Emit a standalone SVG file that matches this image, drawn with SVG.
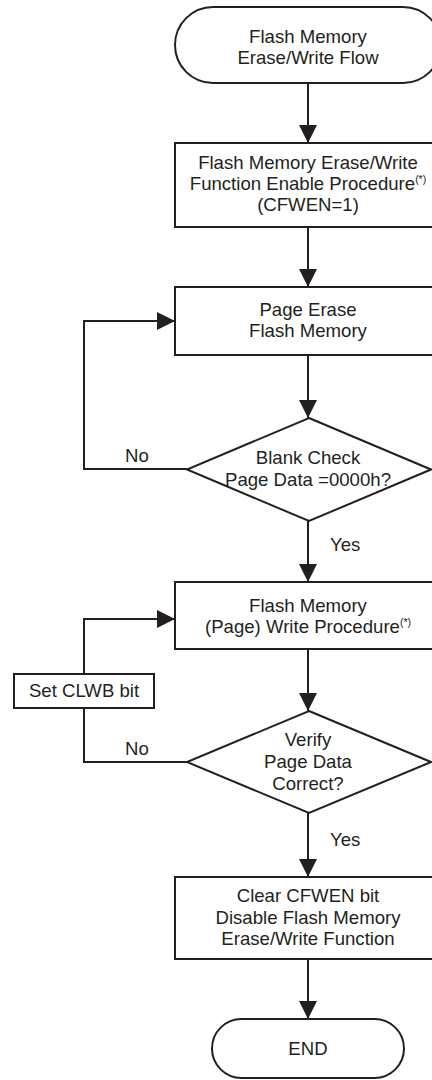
<svg xmlns="http://www.w3.org/2000/svg" width="432" height="1080" viewBox="0 0 432 1080">
<style>
.s{fill:#fff;stroke:#231f20;stroke-width:2}
.c{fill:none;stroke:#231f20;stroke-width:2}
text{font-family:"Liberation Sans",Arial,sans-serif;font-size:18.6px;fill:#231f20;text-anchor:middle}
.sup{font-size:10.5px}
.l{text-anchor:start}
</style>
<defs>
<marker id="ah" markerUnits="userSpaceOnUse" markerWidth="18" markerHeight="18" viewBox="0 0 16 16" refX="16" refY="8" orient="auto">
<path d="M0,0 L16,8 L0,16 Z" fill="#231f20"/>
</marker>
</defs>
<rect width="432" height="1080" fill="#fff"/>
<g id="connectors">
<line class="c" x1="308" y1="83" x2="308" y2="143" marker-end="url(#ah)"/>
<line class="c" x1="308" y1="227" x2="308" y2="287" marker-end="url(#ah)"/>
<line class="c" x1="308" y1="355" x2="308" y2="418" marker-end="url(#ah)"/>
<polyline class="c" points="187,469 84,469 84,321 175,321" marker-end="url(#ah)"/>
<line class="c" x1="308" y1="521" x2="308" y2="582" marker-end="url(#ah)"/>
<line class="c" x1="308" y1="649" x2="308" y2="711" marker-end="url(#ah)"/>
<polyline class="c" points="187,762 84,762 84,708"/>
<polyline class="c" points="84,674 84,619 175,619" marker-end="url(#ah)"/>
<line class="c" x1="308" y1="813" x2="308" y2="877" marker-end="url(#ah)"/>
<line class="c" x1="308" y1="959" x2="308" y2="1019" marker-end="url(#ah)"/>
<text x="137" y="462">No</text>
<text class="l" x="330" y="551">Yes</text>
<text x="137" y="755">No</text>
<text class="l" x="330" y="846">Yes</text>
</g>
<g id="start">
<rect class="s" x="175" y="7" width="266" height="76" rx="38" ry="38"/>
<text x="308" y="43">Flash Memory</text>
<text x="308" y="64">Erase/Write Flow</text>
</g>
<g id="enable">
<rect class="s" x="175" y="143" width="266" height="84"/>
<text x="308" y="169">Flash Memory Erase/Write</text>
<text x="308" y="190">Function Enable Procedure<tspan class="sup" dy="-7">(*)</tspan></text>
<text x="308" y="211">(CFWEN=1)</text>
</g>
<g id="erase">
<rect class="s" x="175" y="287" width="266" height="68"/>
<text x="308" y="316">Page Erase</text>
<text x="308" y="337">Flash Memory</text>
</g>
<g id="blank">
<polygon class="s" points="309,418 431,469.5 309,521 187,469.5"/>
<text x="308" y="464">Blank Check</text>
<text x="308" y="486">Page Data =0000h?</text>
</g>
<g id="write">
<rect class="s" x="175" y="582" width="266" height="67"/>
<text x="308" y="612">Flash Memory</text>
<text x="308" y="633">(Page) Write Procedure<tspan class="sup" dy="-7">(*)</tspan></text>
</g>
<g id="clwb">
<rect class="s" x="14" y="674" width="140" height="34"/>
<text x="84" y="697">Set CLWB bit</text>
</g>
<g id="verify">
<polygon class="s" points="309,711 431,762 309,813 187,762"/>
<text x="308" y="746">Verify</text>
<text x="308" y="768">Page Data</text>
<text x="308" y="790">Correct?</text>
</g>
<g id="clear">
<rect class="s" x="175" y="877" width="266" height="82"/>
<text x="308" y="902">Clear CFWEN bit</text>
<text x="308" y="924">Disable Flash Memory</text>
<text x="308" y="945">Erase/Write Function</text>
</g>
<g id="end">
<rect class="s" x="212" y="1019" width="192" height="59" rx="29.5" ry="29.5"/>
<text x="308" y="1055">END</text>
</g>
</svg>
